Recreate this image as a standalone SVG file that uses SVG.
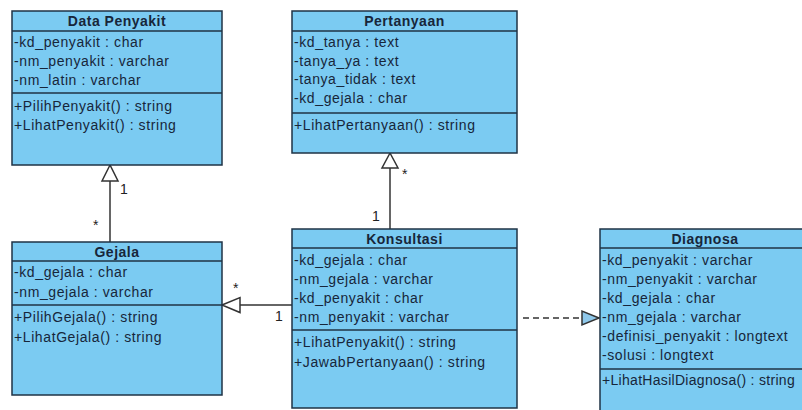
<svg xmlns="http://www.w3.org/2000/svg" width="802" height="410" viewBox="0 0 802 410">
<style>
.box{fill:#7bcbf2;stroke:#1f3345;stroke-width:1.5}
.sep{stroke:#1f3345;stroke-width:1.5}
.t{font-family:"Liberation Sans",Arial,sans-serif;font-size:14px;fill:#17263a;letter-spacing:0.6px}
.h{font-family:"Liberation Sans",Arial,sans-serif;font-size:14px;font-weight:bold;fill:#17263a;text-anchor:middle;letter-spacing:0.5px}
.ln{stroke:#333;stroke-width:1.5;fill:none}
.tri{fill:#fff;stroke:#333;stroke-width:1.5}
.m{font-family:"Liberation Sans",Arial,sans-serif;font-size:14px;fill:#222}
</style>
<rect width="802" height="410" fill="#fff"/>
<g id="connectors">
<line class="ln" x1="110" y1="242" x2="110" y2="181"/>
<polygon class="tri" points="110,165 102,181 118,181"/>
<text class="m" x="120" y="194">1</text>
<text class="m" x="93" y="230">*</text>
<line class="ln" x1="390" y1="229" x2="390" y2="168"/>
<polygon class="tri" points="390,153 382,168 398,168"/>
<text class="m" x="402" y="179">*</text>
<text class="m" x="372" y="221">1</text>
<line class="ln" x1="292" y1="305" x2="240" y2="305"/>
<polygon class="tri" points="222,305 240,297.5 240,312.5"/>
<text class="m" x="233" y="293">*</text>
<text class="m" x="275" y="321">1</text>
<line class="ln" x1="523" y1="318" x2="582" y2="318" stroke-dasharray="6,4"/>
<polygon points="599,318 582,311 582,325" fill="#8fc8ea" stroke="#333" stroke-width="1.5"/>
</g>
<g id="data-penyakit">
<rect class="box" x="12" y="11" width="210" height="154"/>
<line class="sep" x1="12" y1="31" x2="222" y2="31"/>
<line class="sep" x1="12" y1="93" x2="222" y2="93"/>
<text class="h" x="117" y="26">Data Penyakit</text>
<text class="t" x="14" y="47">-kd_penyakit : char</text>
<text class="t" x="14" y="66">-nm_penyakit : varchar</text>
<text class="t" x="14" y="85">-nm_latin : varchar</text>
<text class="t" x="14" y="111">+PilihPenyakit() : string</text>
<text class="t" x="14" y="130">+LihatPenyakit() : string</text>
</g>
<g id="pertanyaan">
<rect class="box" x="292" y="11" width="225" height="142"/>
<line class="sep" x1="292" y1="31" x2="517" y2="31"/>
<line class="sep" x1="292" y1="113" x2="517" y2="113"/>
<text class="h" x="404.5" y="26">Pertanyaan</text>
<text class="t" x="294" y="47">-kd_tanya : text</text>
<text class="t" x="294" y="66">-tanya_ya : text</text>
<text class="t" x="294" y="84">-tanya_tidak : text</text>
<text class="t" x="294" y="103">-kd_gejala : char</text>
<text class="t" x="294" y="130">+LihatPertanyaan() : string</text>
</g>
<g id="gejala">
<rect class="box" x="12" y="242" width="210" height="153"/>
<line class="sep" x1="12" y1="261" x2="222" y2="261"/>
<line class="sep" x1="12" y1="305" x2="222" y2="305"/>
<text class="h" x="117" y="257">Gejala</text>
<text class="t" x="14" y="277">-kd_gejala : char</text>
<text class="t" x="14" y="297">-nm_gejala : varchar</text>
<text class="t" x="14" y="322">+PilihGejala() : string</text>
<text class="t" x="14" y="342">+LihatGejala() : string</text>
</g>
<g id="konsultasi">
<rect class="box" x="292" y="229" width="225" height="179"/>
<line class="sep" x1="292" y1="248" x2="517" y2="248"/>
<line class="sep" x1="292" y1="330" x2="517" y2="330"/>
<text class="h" x="404.5" y="244">Konsultasi</text>
<text class="t" x="294" y="265">-kd_gejala : char</text>
<text class="t" x="294" y="284">-nm_gejala : varchar</text>
<text class="t" x="294" y="303">-kd_penyakit : char</text>
<text class="t" x="294" y="322">-nm_penyakit : varchar</text>
<text class="t" x="294" y="347">+LihatPenyakit() : string</text>
<text class="t" x="294" y="367">+JawabPertanyaan() : string</text>
</g>
<g id="diagnosa">
<rect class="box" x="600" y="229" width="210" height="190"/>
<line class="sep" x1="600" y1="248" x2="810" y2="248"/>
<line class="sep" x1="600" y1="369" x2="810" y2="369"/>
<text class="h" x="705" y="244">Diagnosa</text>
<text class="t" x="602" y="265">-kd_penyakit : varchar</text>
<text class="t" x="602" y="284">-nm_penyakit : varchar</text>
<text class="t" x="602" y="303">-kd_gejala : char</text>
<text class="t" x="602" y="322">-nm_gejala : varchar</text>
<text class="t" x="602" y="341">-definisi_penyakit : longtext</text>
<text class="t" x="602" y="360">-solusi : longtext</text>
<text class="t" x="602" y="385" style="letter-spacing:0.3px">+LihatHasilDiagnosa() : string</text>
</g>
</svg>
